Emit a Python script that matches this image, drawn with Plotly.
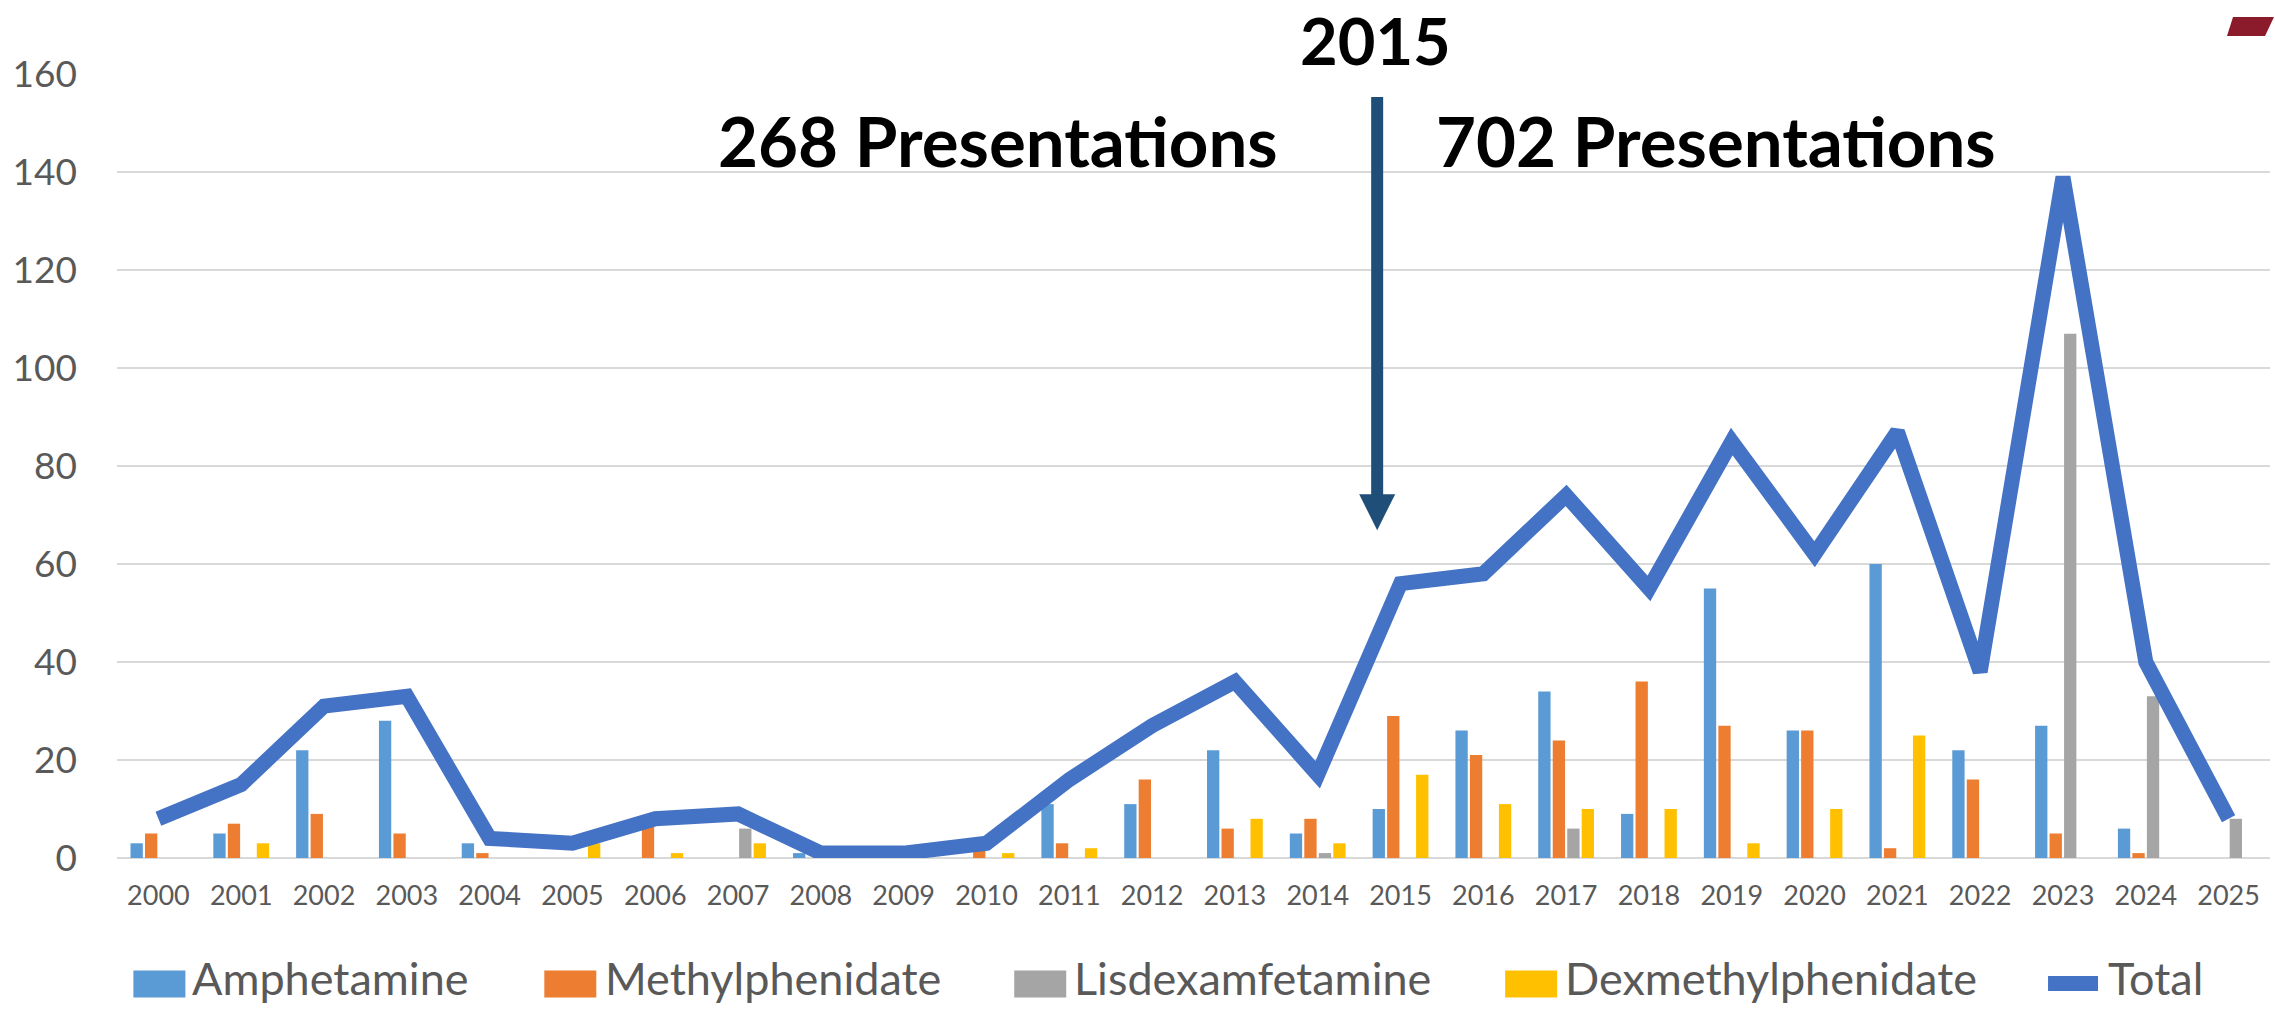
import plotly.graph_objects as go

years = [str(y) for y in range(2000, 2026)]
amphetamine = [3, 5, 22, 28, 3, 0, 0, 0, 1, 0, 0, 11, 11, 22, 5, 10, 26, 34, 9, 55, 26, 60, 22, 27, 6, 0]
methylphenidate = [5, 7, 9, 5, 1, 0, 7, 0, 0, 0, 2, 3, 16, 6, 8, 29, 21, 24, 36, 27, 26, 2, 16, 5, 1, 0]
lisdexamfetamine = [0, 0, 0, 0, 0, 0, 0, 6, 0, 0, 0, 0, 0, 0, 1, 0, 0, 6, 0, 0, 0, 0, 0, 107, 33, 8]
dexmethylphenidate = [0, 3, 0, 0, 0, 3, 1, 3, 0, 0, 1, 2, 0, 8, 3, 17, 11, 10, 10, 3, 10, 25, 0, 0, 0, 0]
total = [8, 15, 31, 33, 4, 3, 8, 9, 1, 1, 3, 16, 27, 36, 17, 56, 58, 74, 55, 85, 62, 87, 38, 139, 40, 8]
y_ticks = [0, 20, 40, 60, 80, 100, 120, 140, 160]

series_names = ["Amphetamine", "Methylphenidate", "Lisdexamfetamine", "Dexmethylphenidate"]
series_values = [amphetamine, methylphenidate, lisdexamfetamine, dexmethylphenidate]
series_colors = ["#5B9BD5", "#ED7D31", "#A5A5A5", "#FFC000"]
total_color = "#4472C4"
text_grey = "#595959"
FONT = "Lato"

W, H = 2275, 1010
L, R, T, B = 116.6, 2270.0, 74.0, 857.6


def px(x):
    return (x - L) / (R - L)


def py(y):
    return (B - y) / (B - T)


fig = go.Figure()
for name, vals, col in zip(series_names, series_values, series_colors):
    fig.add_trace(go.Bar(x=years, y=vals, name=name, marker=dict(color=col, line=dict(width=0)),
                         showlegend=False))
fig.add_trace(go.Scatter(x=years, y=total, name="Total", mode="lines",
                         line=dict(color=total_color, width=15), showlegend=False))

shapes = []
annotations = []

# arrow
arrow_col = "#1F4E79"
shapes.append(dict(type="line", xref="paper", yref="paper", x0=px(1377), x1=px(1377),
                   y0=py(97), y1=py(496), line=dict(color=arrow_col, width=12)))
shapes.append(dict(type="path", xref="paper", yref="paper",
                   path=f"M {px(1359)} {py(494)} L {px(1395)} {py(494)} L {px(1377)} {py(530)} Z",
                   fillcolor=arrow_col, line=dict(width=0)))
# red corner mark
shapes.append(dict(type="path", xref="paper", yref="paper",
                   path=f"M {px(2233)} {py(17)} L {px(2274)} {py(17)} L {px(2265)} {py(36)} L {px(2227)} {py(36)} Z",
                   fillcolor="#8B1A2B", line=dict(width=0)))

annotations.append(dict(text="2015", xref="paper", yref="paper", x=px(1375), y=py(40),
                        xanchor="center", yanchor="middle", showarrow=False,
                        font=dict(family=FONT, size=65, color="black", weight="bold")))
annotations.append(dict(text="268 Presentations", xref="paper", yref="paper", x=px(998), y=py(140),
                        xanchor="center", yanchor="middle", showarrow=False,
                        font=dict(family=FONT, size=69, color="black", weight="bold")))
annotations.append(dict(text="702 Presentations", xref="paper", yref="paper", x=px(1716), y=py(140),
                        xanchor="center", yanchor="middle", showarrow=False,
                        font=dict(family=FONT, size=69, color="black", weight="bold")))

# legend (drawn manually to match the wide keys of the reference)
leg_y = 978
key_x = [(133, 185), (544, 596), (1014, 1066), (1505, 1557)]
txt_x = [190, 603, 1072, 1563]
for (a, b), tx, name, col in zip(key_x, txt_x, series_names, series_colors):
    shapes.append(dict(type="rect", xref="paper", yref="paper", x0=px(a), x1=px(b),
                       y0=py(997), y1=py(970), fillcolor=col, line=dict(width=0)))
    annotations.append(dict(text=name, xref="paper", yref="paper", x=px(tx), y=py(leg_y),
                            xanchor="left", yanchor="middle", showarrow=False,
                            font=dict(family=FONT, size=45, color=text_grey)))
shapes.append(dict(type="line", xref="paper", yref="paper", x0=px(2048), x1=px(2098),
                   y0=py(983), y1=py(983), line=dict(color=total_color, width=15)))
annotations.append(dict(text="Total", xref="paper", yref="paper", x=px(2106), y=py(leg_y),
                        xanchor="left", yanchor="middle", showarrow=False,
                        font=dict(family=FONT, size=45, color=text_grey)))

fig.update_layout(
    width=W, height=H,
    margin=dict(l=L, r=W - R, t=T, b=H - B, pad=0),
    paper_bgcolor="white", plot_bgcolor="white",
    barmode="group", bargap=0.30, bargroupgap=0.15,
    showlegend=False,
    shapes=shapes, annotations=annotations,
    font=dict(family=FONT, color=text_grey),
)
fig.update_xaxes(type="category", categoryorder="array", categoryarray=years,
                 showgrid=False, zeroline=False, showline=False, ticks="",
                 tickfont=dict(family=FONT, size=27, color=text_grey), ticklabelstandoff=19,
                 fixedrange=True)
fig.update_yaxes(range=[0, 160], tickvals=y_ticks, showgrid=True, gridcolor="#D9D9D9", gridwidth=2,
                 zeroline=True, zerolinecolor="#D9D9D9", zerolinewidth=2, showline=False, ticks="",
                 tickfont=dict(family=FONT, size=37, color=text_grey), ticklabelstandoff=39,
                 fixedrange=True)

fig.write_html("out.html", config={"displayModeBar": False},
               post_script="document.body.style.margin='0px';")
